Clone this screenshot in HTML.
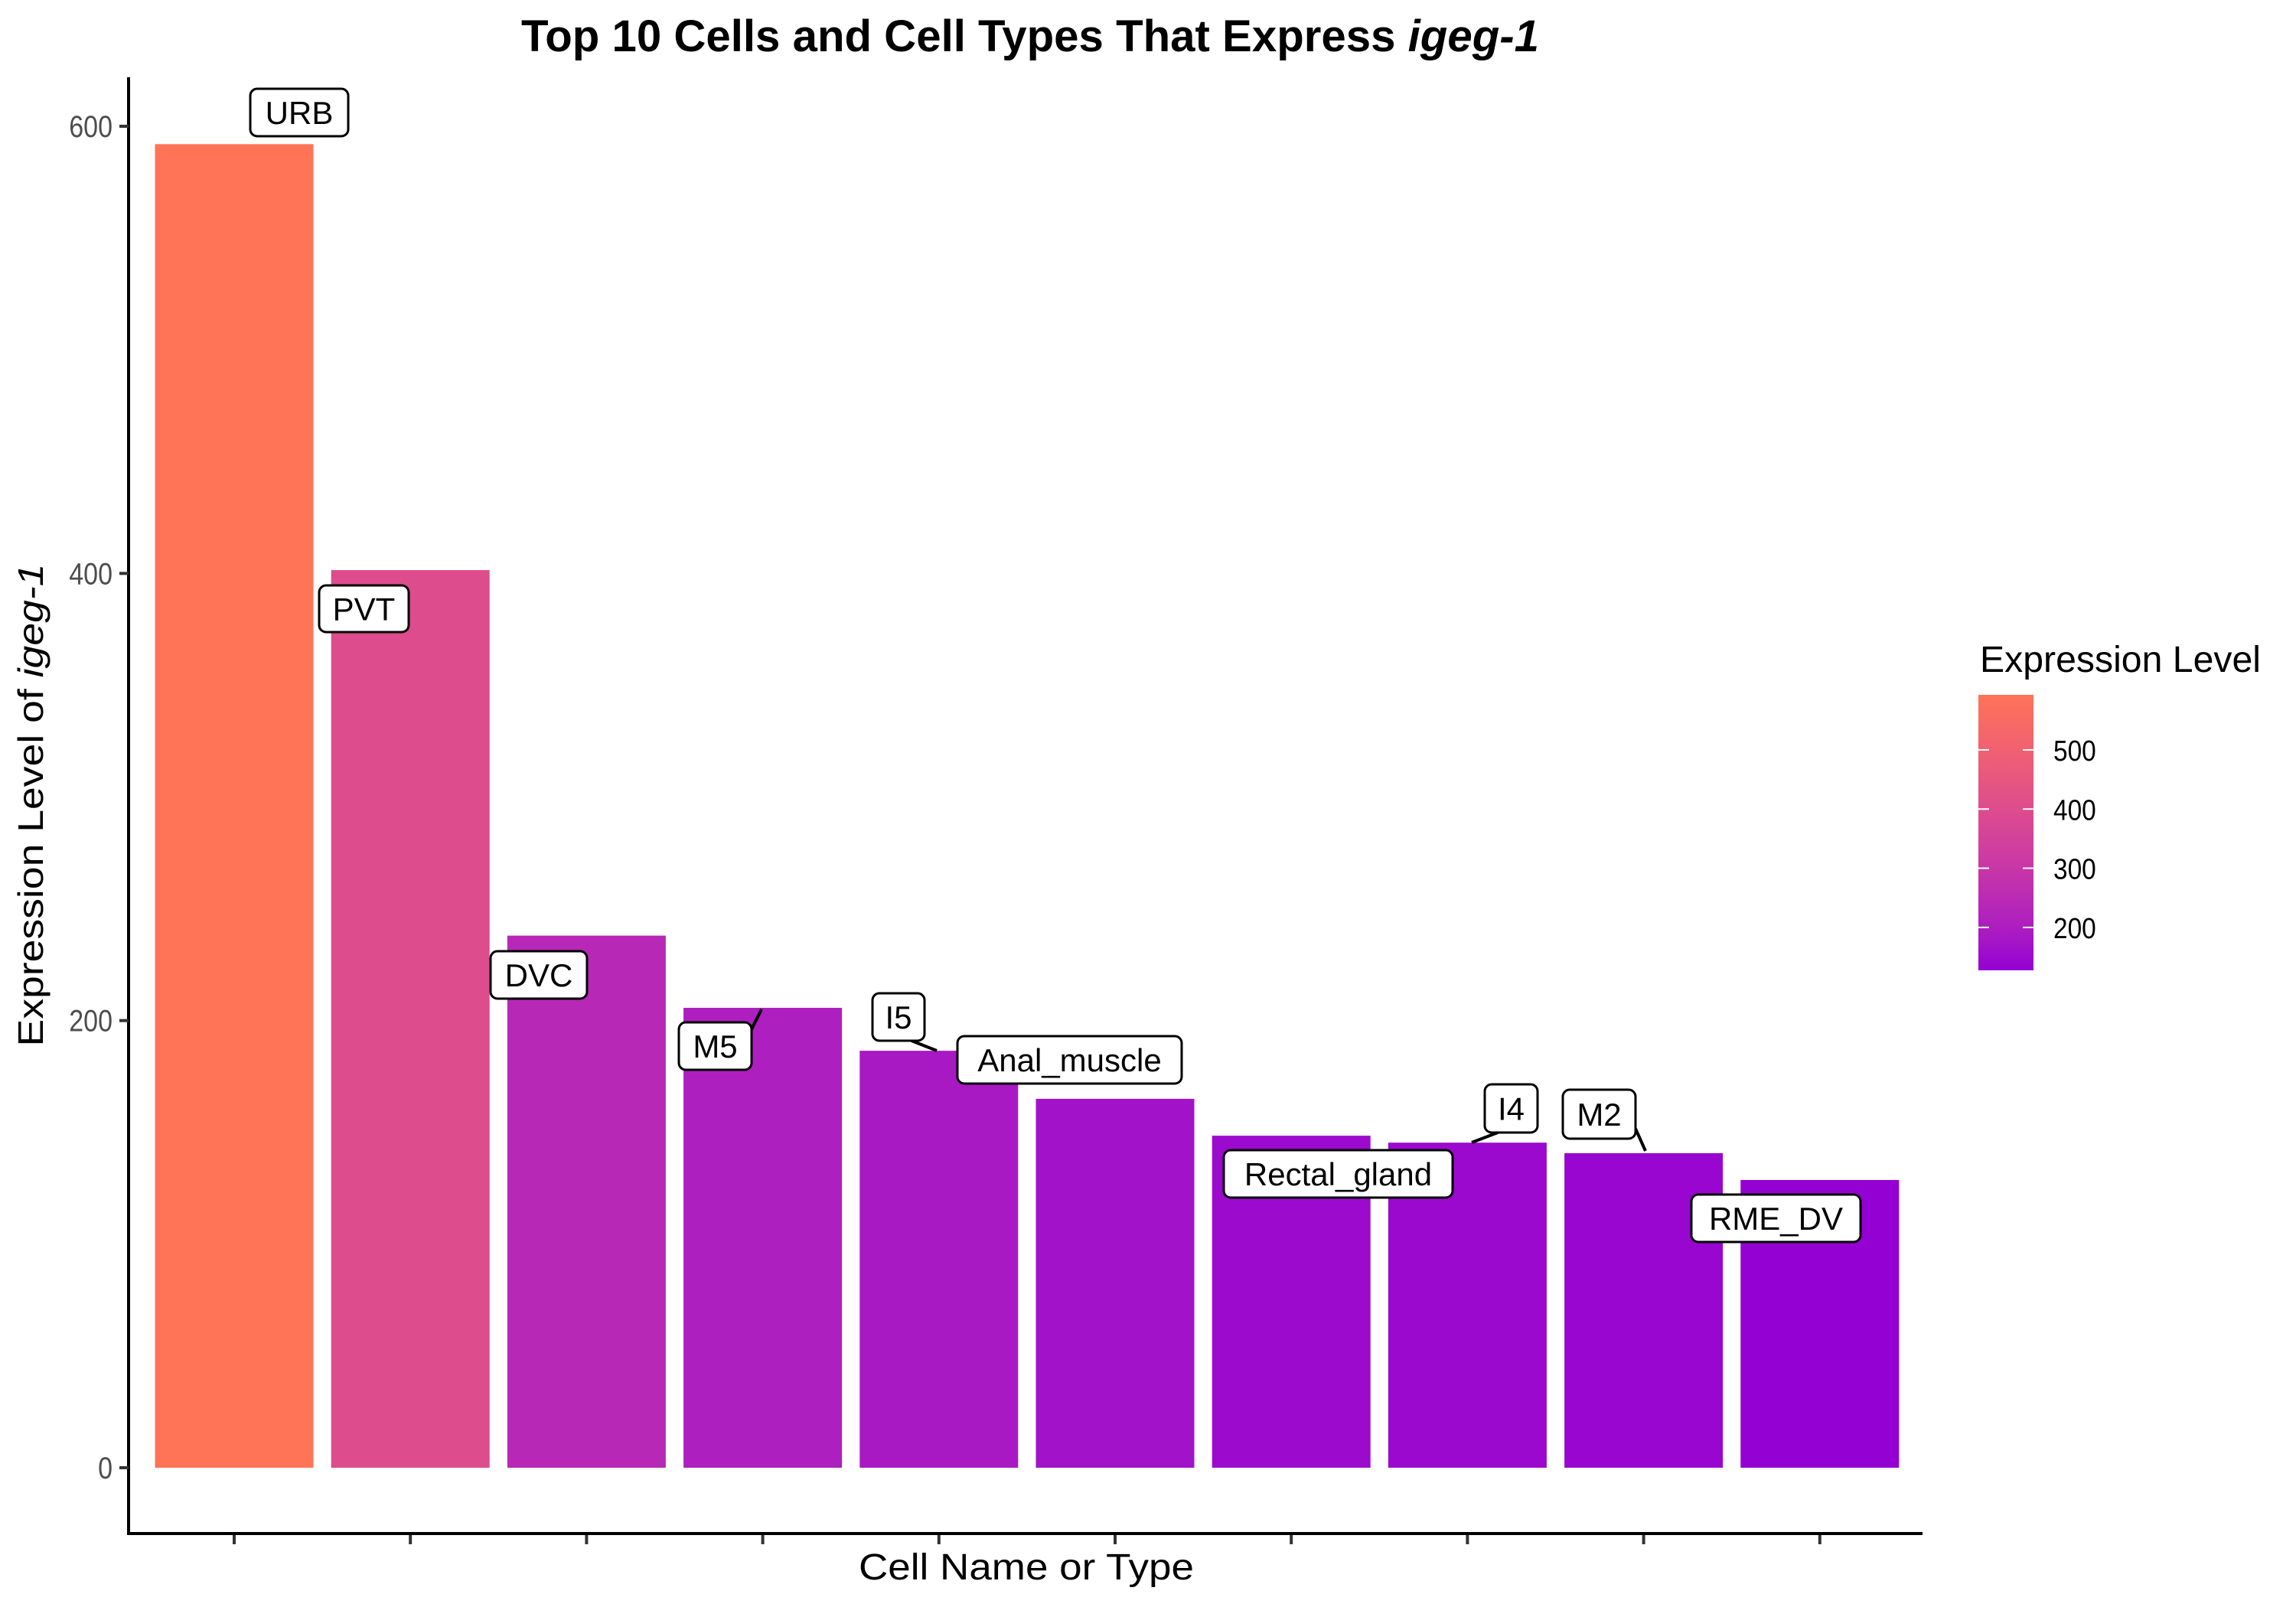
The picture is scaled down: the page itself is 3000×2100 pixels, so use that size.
<!DOCTYPE html>
<html><head><meta charset="utf-8"><style>html,body{margin:0;padding:0;background:#fff}svg{display:block}</style></head>
<body>
<svg id="chart" width="3000" height="2100" viewBox="0 0 3000 2100" xmlns="http://www.w3.org/2000/svg" font-family="Liberation Sans, sans-serif">
<rect width="3000" height="2100" fill="#fff"/>
<text x="1346" y="67" text-anchor="middle" font-size="58" font-weight="bold" textLength="1330" lengthAdjust="spacingAndGlyphs">Top 10 Cells and Cell Types That Express <tspan font-style="italic">igeg-1</tspan></text>
<g id="bars"></g>
<g id="axes"></g>
<g id="labels"></g>
<text transform="translate(56,1052) rotate(-90)" text-anchor="middle" font-size="46" textLength="631" lengthAdjust="spacingAndGlyphs">Expression Level of <tspan font-style="italic">igeg-1</tspan></text>
<text x="1341" y="2064" text-anchor="middle" font-size="48" textLength="438" lengthAdjust="spacingAndGlyphs">Cell Name or Type</text>
<g id="legend">
<text x="2587" y="878" font-size="48" textLength="367" lengthAdjust="spacingAndGlyphs">Expression Level</text>
</g>
</svg>
<script>
const categories = ["URB","PVT","DVC","M5","I5","Anal_muscle","Rectal_gland","I4","M2","RME_DV"];
const values = [592, 401.5, 238, 205.7, 186.5, 165, 148.5, 145.4, 140.7, 128.7];
const yTicks = [0, 200, 400, 600];
const legendTicks = [200, 300, 400, 500];
// label box geometry (pixel box + leader line endpoints), relative to layout not data
const labelBoxes = [
 {t:"URB",x1:327,y1:116,x2:455,y2:178},
 {t:"PVT",x1:417,y1:765,x2:534,y2:826},
 {t:"DVC",x1:641,y1:1243,x2:767,y2:1305},
 {t:"M5",x1:887,y1:1336,x2:982,y2:1398,line:[982,1345,995,1319]},
 {t:"I5",x1:1140,y1:1298,x2:1208,y2:1360,line:[1191,1360,1224,1373]},
 {t:"Anal_muscle",x1:1251,y1:1354,x2:1544,y2:1416},
 {t:"Rectal_gland",x1:1599,y1:1503,x2:1898,y2:1565},
 {t:"I4",x1:1940,y1:1417,x2:2009,y2:1480,line:[1957,1480,1923,1493]},
 {t:"M2",x1:2042,y1:1424,x2:2137,y2:1488,line:[2137,1475,2150,1504]},
 {t:"RME_DV",x1:2210,y1:1561,x2:2431,y2:1623}
];
const NS="http://www.w3.org/2000/svg";
const y0=1918, ppu=(1918-165)/600;
const yScale=v=>y0-v*ppu;
const x0=306, step=230.2, bw=207;
const xScale=i=>x0+i*step;
const vmin=127.5, vmax=593;
function hex2rgb(h){return [1,3,5].map(i=>parseInt(h.substr(i,2),16));}
function toLab(rgb){let c=rgb.map(v=>{v/=255;return v<=0.04045?v/12.92:Math.pow((v+0.055)/1.055,2.4);});
 let X=(c[0]*0.4124+c[1]*0.3576+c[2]*0.1805)/0.95047,Y=c[0]*0.2126+c[1]*0.7152+c[2]*0.0722,Z=(c[0]*0.0193+c[1]*0.1192+c[2]*0.9505)/1.08883;
 const f=t=>t>0.008856?Math.cbrt(t):7.787*t+16/116;
 return [116*f(Y)-16,500*(f(X)-f(Y)),200*(f(Y)-f(Z))];}
function fromLab(L){let fy=(L[0]+16)/116,fx=fy+L[1]/500,fz=fy-L[2]/200;
 const fi=t=>t*t*t>0.008856?t*t*t:(t-16/116)/7.787;
 let X=fi(fx)*0.95047,Y=fi(fy),Z=fi(fz)*1.08883;
 let r=X*3.2406-Y*1.5372-Z*0.4986,g=-X*0.9689+Y*1.8758+Z*0.0415,b=X*0.0557-Y*0.2040+Z*1.0570;
 return [r,g,b].map(v=>{v=v<=0.0031308?12.92*v:1.055*Math.pow(v,1/2.4)-0.055;return Math.round(Math.max(0,Math.min(1,v))*255);});}
const lo=toLab(hex2rgb("#9400D3")), hi=toLab(hex2rgb("#FF7357"));
function color(v){let t=Math.max(0,Math.min(1,(v-vmin)/(vmax-vmin)));let c=fromLab(lo.map((a,i)=>a+(hi[i]-a)*t));return `rgb(${c[0]},${c[1]},${c[2]})`;}
function mk(tag,attrs,parent){const e=document.createElementNS(NS,tag);for(const k in attrs)e.setAttribute(k,attrs[k]);parent.appendChild(e);return e;}
const bars=document.getElementById('bars');
values.forEach((v,i)=>{
 const r=mk('rect',{x:xScale(i)-bw/2,y:yScale(v),width:bw,height:yScale(0)-yScale(v),fill:color(v)},bars);
 
 
});
const axes=document.getElementById('axes');
const ya=mk('line',{x1:168,y1:101,x2:168,y2:2006,stroke:'#000','stroke-width':4},axes);


const xa=mk('line',{x1:166,y1:2004,x2:2512,y2:2004,stroke:'#000','stroke-width':4},axes);


yTicks.forEach(t=>{
 const tk=mk('line',{x1:156,y1:yScale(t),x2:168,y2:yScale(t),stroke:'#333','stroke-width':4},axes);
 
 
 const tx=mk('text',{x:147,y:yScale(t)+14,'text-anchor':'end','font-size':40,fill:'#4d4d4d',transform:`translate(147,0) scale(0.85,1) translate(-147,0)`},axes);
 tx.textContent=t;
 
 
});
categories.forEach((c,i)=>{
 const tk=mk('line',{x1:xScale(i),y1:2006,x2:xScale(i),y2:2018,stroke:'#333','stroke-width':4},axes);
 
 
});
const lab=document.getElementById('labels');
labelBoxes.forEach(b=>{
 const g=mk('g',{},lab);
 
 
 if(b.line){mk('line',{x1:b.line[0],y1:b.line[1],x2:b.line[2],y2:b.line[3],stroke:'#000','stroke-width':4},g);}
 mk('rect',{x:b.x1,y:b.y1,width:b.x2-b.x1,height:b.y2-b.y1,rx:9,fill:'#fff',stroke:'#000','stroke-width':3},g);
 const t=mk('text',{x:(b.x1+b.x2)/2,y:(b.y1+b.y2)/2+15,'text-anchor':'middle','font-size':42},g);
 t.textContent=b.t;
});
const leg=document.getElementById('legend');
const defs=mk('defs',{},leg);
const gr=mk('linearGradient',{id:'lg',x1:0,y1:1,x2:0,y2:0},defs);
for(let k=0;k<=20;k++){const v=vmin+(vmax-vmin)*k/20;mk('stop',{offset:k/20,'stop-color':color(v)},gr);}
const lgTop=908,lgBot=1268;
const lgY=v=>lgBot-(v-vmin)/(vmax-vmin)*(lgBot-lgTop);
const cb=mk('rect',{x:2585,y:lgTop,width:72,height:lgBot-lgTop,fill:'url(#lg)'},leg);


legendTicks.forEach(t=>{
 mk('line',{x1:2585,y1:lgY(t),x2:2599,y2:lgY(t),stroke:'#fff','stroke-width':2},leg);
 mk('line',{x1:2643,y1:lgY(t),x2:2657,y2:lgY(t),stroke:'#fff','stroke-width':2},leg);
 const tx=mk('text',{x:2683,y:lgY(t)+14,'font-size':38,transform:`translate(2683,0) scale(0.88,1) translate(-2683,0)`},leg);
 tx.textContent=t;
 
 
});
</script>
</body></html>
